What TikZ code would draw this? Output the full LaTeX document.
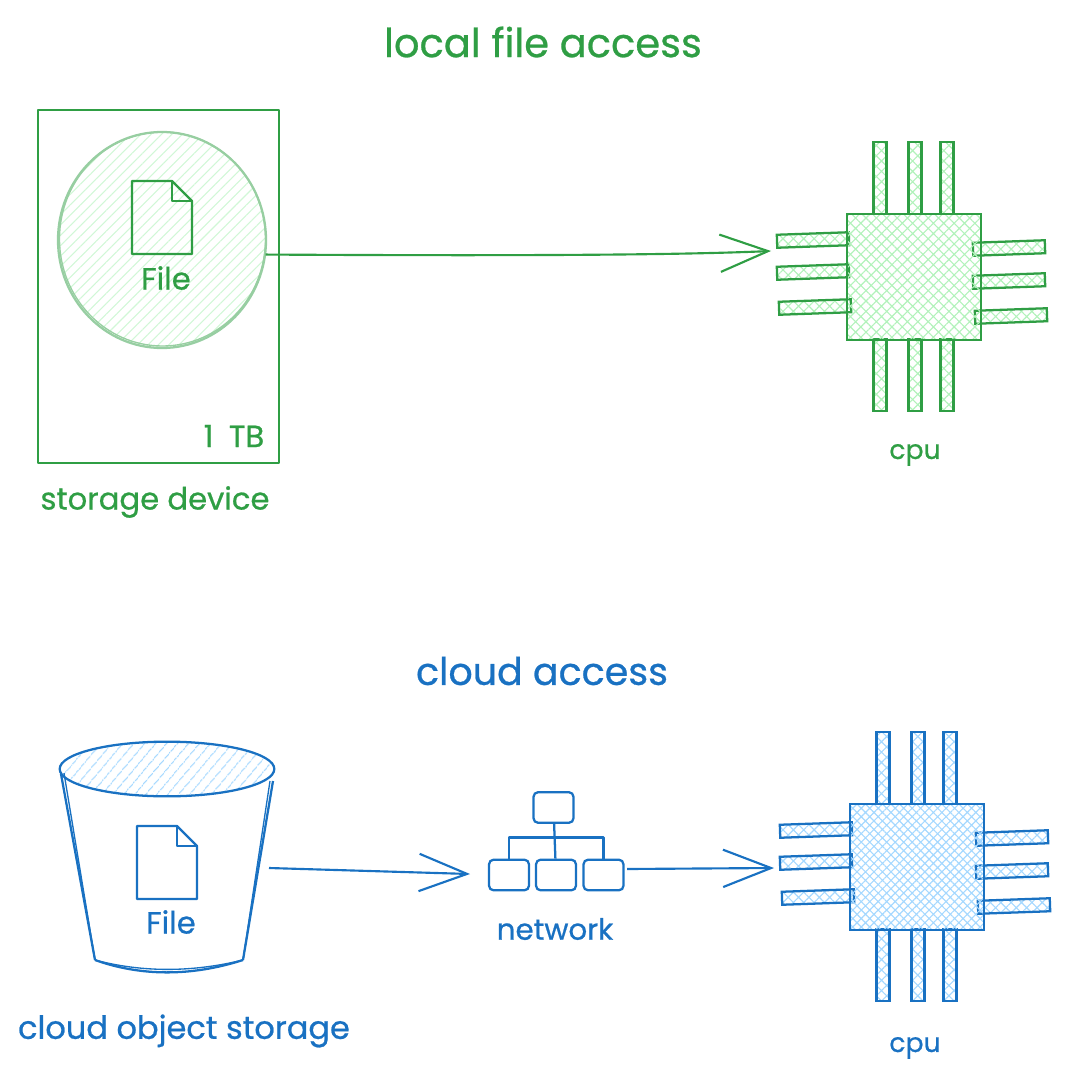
\documentclass[tikz,border=0pt]{standalone}
\usepackage{fontspec}
\usepackage{xcolor}
\usepackage{tikz}
\usetikzlibrary{arrows.meta, positioning, shapes.geometric, patterns.meta}
\setmainfont{Poppins}[FakeBold=0.7]
\definecolor{inkgreen}{HTML}{2F9E44}
\definecolor{fillgreen}{HTML}{B2F2BB}
\definecolor{inkblue}{HTML}{1971C2}
\definecolor{fillblue}{HTML}{A5D8FF}
\newcommand{\chiplabel}{cpu}
\newcommand{\filelabel}{File}
% chip: prefix, x shift, y shift, ink, fill, hatch distance
\newcommand{\cpuchip}[6]{
  \begin{scope}[shift={(#2,#3)}, every node/.append style={draw=#4, pattern color=#5}]
    \foreach \px/\pn in {880/a, 915/b, 947/c} {
      \node[pinv] (#1top\pn) at (\px,178) {};
      \node[pinv] (#1bot\pn) at (\px,375) {};
    }
    \node[pinh, rotate=2] (#1lefta) at (813,240) {};
    \node[pinh, rotate=2] (#1leftb) at (813,272) {};
    \node[pinh, rotate=2] (#1leftc) at (815,307) {};
    \node[pinh, rotate=2] (#1righta) at (1009,248) {};
    \node[pinh, rotate=2] (#1rightb) at (1009,281) {};
    \node[pinh, rotate=2] (#1rightc) at (1011,316) {};
    \node[chipbody, pattern={Hatch[angle=45, distance=#6, line width=0.85pt]}] (#1body) at (914,277) {};
  \end{scope}
}
% file icon: prefix, x shift, y shift
\newcommand{\fileicon}[3]{
  \begin{scope}[shift={(#2,#3)}]
    \coordinate (#1a) at (132,181);
    \coordinate (#1b) at (172,181);
    \coordinate (#1c) at (192,201);
    \coordinate (#1d) at (192,254);
    \coordinate (#1e) at (132,254);
    \draw[sketch] (#1a) -- (#1b) -- (#1c) -- (#1d) -- (#1e) -- cycle;
    \draw[sketch] (#1b) -- (172,201) -- (#1c);
  \end{scope}
}

\begin{document}
\begin{tikzpicture}[
  x=0.75pt, y=-0.75pt,
  sketch/.style={line width=1.7pt, line join=round},
  arrow/.style={-{Straight Barb[length=36pt, width=28pt, line width=1.6pt]}, line width=1.6pt},
  title/.style={font=\fontsize{30}{36}\selectfont},
  label/.style={font=\fontsize{23}{27}\selectfont},
  small/.style={font=\fontsize{20}{24}\selectfont},
  pinv/.style={rectangle, line width=1.7pt, minimum width=9.75pt, minimum height=54pt, inner sep=0pt,
               pattern={Hatch[angle=45, distance=5.5pt, line width=0.85pt]}},
  pinh/.style={rectangle, line width=1.7pt, minimum width=54pt, minimum height=9.75pt, inner sep=0pt,
               pattern={Hatch[angle=45, distance=5.5pt, line width=0.85pt]}},
  chipbody/.style={rectangle, line width=1.7pt, minimum width=100.5pt, minimum height=95pt, inner sep=0pt},
  netbox/.style={rectangle, draw=inkblue, rounded corners=3.5pt, line width=1.7pt, minimum width=30pt,
               minimum height=23pt, inner sep=0pt}
]
  \useasboundingbox (0,0) rectangle (1071,1084);
  % top: local access
  \begin{scope}[color=inkgreen, text=inkgreen]
    \node[title] (localtitle) at (543,42) {local file access};
    \node[rectangle, draw=inkgreen, sketch, minimum width=180.75pt, minimum height=264.75pt, inner sep=0pt] (storage) at (158.5,286.5) {};
    \node[ellipse, draw=inkgreen!50, line width=1.7pt, minimum width=156pt, minimum height=162pt, inner sep=0pt,
          pattern={Lines[angle=45, distance=5.5pt, line width=0.8pt]}, pattern color=fillgreen!60] (disk) at (162,240) {};
    \draw[inkgreen!50, line width=1pt] (162.5,239) ellipse (103 and 107);
    \fileicon{localfile}{0}{0}
    \node[label] (localfilelabel) at (166,278) {\filelabel};
    \node[label] (capacity) at (234,436) {1\,\,\,TB};
    \node[label] (storagelabel) at (155,502) {storage device};
    \cpuchip{local}{0}{0}{inkgreen}{fillgreen}{5.5pt}
    \node[small] (localcpulabel) at (915,455) {\chiplabel};
    \coordinate (localin) at (771,251);
    \draw[arrow] (disk.-8) .. controls (520,256) and (680,255) .. (localin);
  \end{scope}
  % bottom: cloud access
  \begin{scope}[color=inkblue, text=inkblue]
    \node[title, font=\fontsize{28.5}{34}\selectfont] (cloudtitle) at (542,671) {cloud access};
    \node[ellipse, draw=inkblue, line width=1.7pt, minimum width=161pt, minimum height=41pt, inner sep=0pt,
          pattern={Lines[angle=50, distance=6.5pt, line width=1pt]}, pattern color=fillblue] (buckettop) at (167,769) {};
    \coordinate (bucketleft) at (95,960);
    \coordinate (bucketright) at (243,960);
    \draw[sketch] (buckettop.west) ++(2,5) -- (bucketleft);
    \draw[sketch, line width=1pt] (buckettop.west) ++(5,4) -- (bucketleft);
    \draw[sketch] (buckettop.east) ++(-2,12) -- (bucketright);
    \draw[sketch, line width=1pt] (buckettop.east) ++(-5,12) -- (bucketright);
    \draw[sketch] (bucketleft) .. controls (140,976) and (190,977) .. (bucketright);
    \draw[sketch, line width=1pt] (bucketleft) .. controls (140,972) and (190,973) .. (bucketright);
    \fileicon{cloudfile}{5}{645}
    \node[label] (cloudfilelabel) at (171,922) {\filelabel};
    \node[label, font=\fontsize{24}{28}\selectfont] (bucketlabel) at (184,1031) {cloud object storage};
    % network
    \node[netbox] (nettop) at (553.5,807.5) {};
    \node[netbox] (netleft) at (509,875) {};
    \node[netbox] (netmid) at (556,875) {};
    \node[netbox] (netright) at (603.5,875) {};
    \draw[sketch] (nettop) -- (netmid);
    \draw[sketch] (netleft.north) -- ++(0,-21) -| (netright.north);
    \node[small, font=\fontsize{22}{26}\selectfont] (netlabel) at (555,929) {network};
    \cpuchip{cloud}{3}{590}{inkblue}{fillblue}{4.5pt}
    \node[small] (cloudcpulabel) at (915,1048) {\chiplabel};
    \coordinate (bucketout) at (269,868);
    \coordinate (netin) at (470,874);
    \coordinate (netout) at (627,869);
    \coordinate (cloudin) at (774,868);
    \draw[arrow] (bucketout) -- (netin);
    \draw[arrow] (netout) -- (cloudin);
  \end{scope}
\end{tikzpicture}
\end{document}
